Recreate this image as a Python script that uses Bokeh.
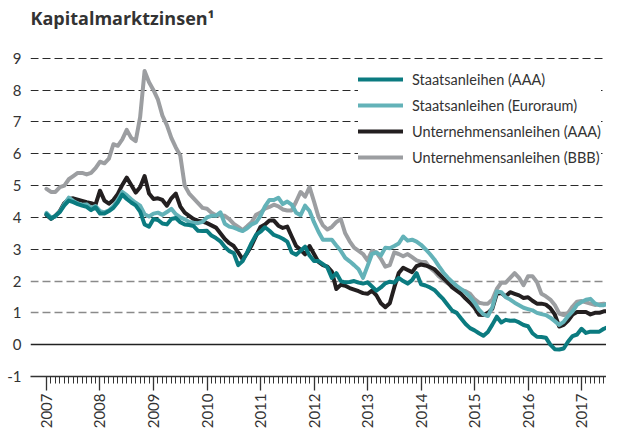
import math
from bokeh.plotting import figure
from bokeh.models import FixedTicker, Grid, Legend, LegendItem
from bokeh.embed import file_html
from bokeh.resources import INLINE

# time axis: monthly, Jan 2007 .. Aug 2017 (decimal years)
start_year = 2007
n_months = 128
dates = [start_year + i / 12 for i in range(n_months)]
year_ticks = list(range(2007, 2018))
month_ticks = [start_year + i / 12 for i in range(0, 130)]
y_ticks = [-1, 0, 1, 2, 3, 4, 5, 6, 7, 8, 9]

title = "Kapitalmarktzinsen¹"
labels = ["Staatsanleihen (AAA)", "Staatsanleihen (Euroraum)",
          "Unternehmensanleihen (AAA)", "Unternehmensanleihen (BBB)"]

staats_aaa = [
    4.10, 3.96, 4.05, 4.17, 4.38, 4.53, 4.48, 4.42, 4.37, 4.33, 4.23, 4.32,
    4.12, 4.12, 4.20, 4.30, 4.48, 4.72, 4.58, 4.47, 4.38, 4.18, 3.78, 3.71,
    3.95, 3.92, 3.81, 3.78, 3.95, 3.98, 3.85, 3.78, 3.76, 3.73, 3.58, 3.57,
    3.58, 3.43, 3.35, 3.25, 3.07, 2.94, 2.88, 2.50, 2.63, 2.90, 3.20, 3.45,
    3.55, 3.69, 3.58, 3.45, 3.40, 3.33, 3.24, 2.90, 2.83, 2.95, 3.08, 2.80,
    2.63, 2.63, 2.53, 2.43, 2.10, 2.25, 2.00, 1.96, 1.97, 2.00, 1.95, 1.92,
    1.96, 1.83, 1.70, 1.80, 1.93, 1.98, 1.95, 2.10, 2.00, 1.92, 2.03, 2.25,
    1.90, 1.86, 1.80, 1.72, 1.57, 1.43, 1.25, 1.07, 1.00, 0.82, 0.65, 0.52,
    0.45, 0.36, 0.28, 0.40, 0.63, 0.88, 0.70, 0.78, 0.75, 0.76, 0.70, 0.62,
    0.58, 0.36, 0.25, 0.24, 0.22, 0.00, -0.14, -0.15, -0.12, 0.10, 0.27, 0.32,
    0.50, 0.37, 0.41, 0.41, 0.41, 0.50, 0.55, 0.32,
]
staats_euro = [
    4.14, 4.00, 4.03, 4.18, 4.42, 4.62, 4.52, 4.44, 4.40, 4.41, 4.30, 4.36,
    4.20, 4.16, 4.22, 4.35, 4.55, 4.80, 4.70, 4.57, 4.46, 4.37, 4.10, 4.03,
    4.12, 4.15, 4.08, 4.17, 4.27, 4.10, 4.00, 3.94, 3.86, 3.83, 3.82, 3.86,
    4.00, 4.05, 4.05, 4.16, 3.80, 3.71, 3.68, 3.62, 3.57, 3.66, 3.78, 3.84,
    4.05, 4.35, 4.55, 4.55, 4.62, 4.42, 4.50, 4.40, 4.15, 4.07, 4.37, 4.20,
    3.85, 3.55, 3.30, 3.30, 3.30, 3.12, 2.95, 2.73, 2.62, 2.50, 2.37, 2.10,
    2.47, 2.85, 2.90, 2.80, 3.05, 3.03, 3.10, 3.18, 3.40, 3.27, 3.30, 3.24,
    3.14, 3.00, 2.85, 2.68, 2.47, 2.27, 2.11, 1.97, 1.85, 1.75, 1.64, 1.50,
    1.32, 1.10, 0.95, 0.90, 1.18, 1.67, 1.65, 1.49, 1.42, 1.32, 1.24, 1.16,
    1.12, 1.08, 1.00, 0.96, 0.93, 0.85, 0.74, 0.62, 0.72, 0.90, 1.05, 1.25,
    1.34, 1.41, 1.44, 1.30, 1.24, 1.24, 1.29, 1.10,
]
untern_aaa = [
    4.08, 3.96, 4.05, 4.20, 4.45, 4.58, 4.60, 4.56, 4.52, 4.48, 4.45, 4.40,
    4.84, 4.53, 4.43, 4.55, 4.74, 5.02, 5.25, 5.02, 4.78, 4.95, 5.30, 4.75,
    4.58, 4.60, 4.55, 4.37, 4.60, 4.75, 4.35, 4.15, 4.05, 3.95, 3.90, 3.87,
    3.82, 3.75, 3.68, 3.50, 3.32, 3.19, 3.10, 2.90, 2.68, 2.88, 3.12, 3.42,
    3.70, 3.78, 3.90, 3.90, 3.74, 3.67, 3.71, 3.40, 3.10, 2.98, 2.84, 3.10,
    2.85, 2.60, 2.50, 2.45, 2.30, 1.75, 1.88, 1.85, 1.78, 1.73, 1.68, 1.62,
    1.60, 1.70, 1.55, 1.30, 1.18, 1.30, 1.80, 2.25, 2.42, 2.35, 2.28, 2.47,
    2.52, 2.49, 2.44, 2.37, 2.23, 2.09, 1.96, 1.80, 1.70, 1.60, 1.45, 1.32,
    1.16, 0.94, 0.93, 1.00, 1.13, 1.60, 1.62, 1.52, 1.65, 1.60, 1.55, 1.47,
    1.49, 1.38, 1.29, 1.29, 1.26, 1.15, 0.95, 0.57, 0.62, 0.76, 0.95, 1.03,
    1.03, 1.03, 0.95, 1.00, 1.00, 1.05, 1.05, 0.98,
]
untern_bbb = [
    4.90, 4.80, 4.80, 4.95, 5.00, 5.20, 5.30, 5.40, 5.40, 5.35, 5.40, 5.55,
    5.75, 5.70, 5.85, 6.30, 6.25, 6.45, 6.75, 6.50, 6.40, 7.15, 8.60, 8.25,
    8.00, 7.70, 7.20, 6.90, 6.50, 6.20, 5.95, 5.00, 4.75, 4.60, 4.45, 4.30,
    4.27, 4.15, 4.07, 4.07, 4.05, 3.95, 3.80, 3.70, 3.60, 3.72, 3.85, 4.08,
    4.15, 4.28, 4.33, 4.40, 4.35, 4.25, 4.22, 4.22, 4.50, 4.80, 4.65, 4.95,
    4.50, 4.02, 3.75, 3.62, 3.70, 3.85, 3.95, 3.50, 3.25, 3.05, 2.95, 2.85,
    2.65, 2.95, 2.90, 2.70, 2.45, 2.50, 2.90, 2.85, 2.78, 2.85, 2.75, 2.65,
    2.60, 2.60, 2.42, 2.30, 2.15, 2.03, 1.93, 1.85, 1.77, 1.72, 1.68, 1.60,
    1.43, 1.32, 1.29, 1.29, 1.42, 1.75, 1.95, 1.95, 2.10, 2.25, 2.10, 1.87,
    2.15, 2.15, 1.97, 1.60, 1.52, 1.42, 1.25, 0.98, 0.93, 1.00, 1.20, 1.35,
    1.37, 1.33, 1.29, 1.25, 1.27, 1.29, 1.25, 1.15,
]

colors = ["#0b7b80", "#63b2b8", "#231f20", "#9c9ea1"]
FONT = "Lato"
TXT = "#333333"

p = figure(width=606, height=431,
           x_range=(2006.701, 2017.467), y_range=(-1, 9.875),
           output_backend="svg", toolbar_location=None,
           min_border_left=30, min_border_right=0,
           min_border_top=30, min_border_bottom=53)

p.title.text = title
p.title.text_font = "Open Sans"
p.title.text_font_size = "18px"
p.title.text_font_style = "bold"
p.title.text_color = TXT
p.title.align = "left"
p.title.vertical_align = "bottom"
p.title.offset = 0
p.title.standoff = 2

p.outline_line_color = None
p.background_fill_color = "white"
p.border_fill_color = "white"

# x axis
xa = p.xaxis[0]
xa.ticker = FixedTicker(ticks=year_ticks, minor_ticks=month_ticks)
xa.axis_line_color = TXT
xa.axis_line_width = 1.3
xa.major_tick_line_color = TXT
xa.major_tick_line_width = 1.3
xa.major_tick_out = 14
xa.major_tick_in = 0
xa.minor_tick_line_color = TXT
xa.minor_tick_out = 7
xa.minor_tick_in = 0
xa.major_label_orientation = math.pi / 2
xa.major_label_standoff = 3
xa.major_label_text_font = FONT
xa.major_label_text_font_size = "15px"
xa.major_label_text_color = TXT
xa.major_label_overrides = {y: str(y) for y in year_ticks}

# y axis
ya = p.yaxis[0]
ya.ticker = FixedTicker(ticks=y_ticks)
ya.axis_line_color = None
ya.major_tick_line_color = None
ya.minor_tick_line_color = None
ya.major_tick_out = 0
ya.minor_tick_out = 0
ya.major_label_standoff = 9
ya.major_label_text_font = FONT
ya.major_label_text_font_size = "15px"
ya.major_label_text_color = TXT
ya.major_label_overrides = {-1: "-1"}

# grids
p.xgrid.visible = False
p.ygrid.ticker = FixedTicker(ticks=[3, 4, 5, 6, 7, 8, 9])
p.ygrid.grid_line_color = "#2a2a2a"
p.ygrid.grid_line_dash = "8 4"
p.ygrid.grid_line_width = 1.2
g2 = Grid(dimension=1, ticker=FixedTicker(ticks=[1, 2]),
          grid_line_color="#8a8a8a", grid_line_dash="8 4", grid_line_width=1.4)
g0 = Grid(dimension=1, ticker=FixedTicker(ticks=[0]),
          grid_line_color="#222222", grid_line_width=1.4)
p.add_layout(g2)
p.add_layout(g0)

series = [staats_aaa, staats_euro, untern_aaa, untern_bbb]
renderers = [None] * 4
for i in [3, 2, 1, 0]:
    renderers[i] = p.line(dates, series[i], line_color=colors[i], line_width=4,
                          line_join="round", line_cap="round")

legend = Legend(items=[LegendItem(label=labels[i], renderers=[renderers[i]]) for i in range(4)],
                location=(328, 209))
legend.glyph_width = 45
legend.glyph_height = 20
legend.label_height = 20
legend.spacing = 6
legend.padding = 6
legend.margin = 0
legend.label_standoff = 9
legend.label_text_font = FONT
legend.label_text_font_size = "14.5px"
legend.label_text_color = TXT
legend.border_line_color = None
legend.background_fill_color = "white"
legend.background_fill_alpha = 1
p.add_layout(legend)

open("out.html", "w").write(file_html(p, INLINE))
